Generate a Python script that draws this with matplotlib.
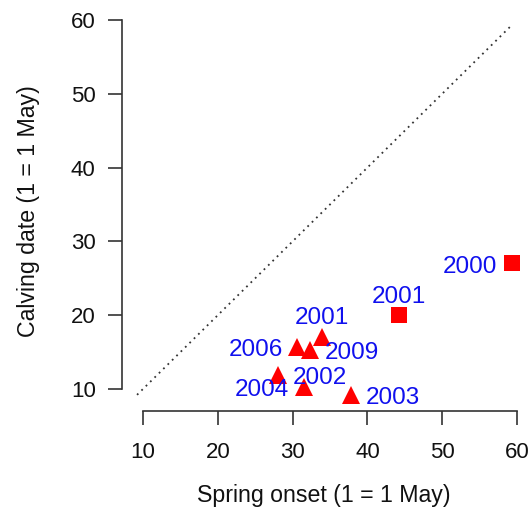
import matplotlib
matplotlib.use("Agg")
import matplotlib.pyplot as plt

# spring onset vs calving date, day of year with 1 = 1 May
squareYears = ["2000", "2001"]
squareOnset = [59.3, 44.2]
squareCalving = [27.0, 20.0]

triangleYears = ["2001", "2006", "2009", "2002", "2004", "2003"]
triangleOnset = [33.9, 30.6, 32.3, 28.1, 31.5, 37.8]
triangleCalving = [17.1, 15.7, 15.3, 11.9, 10.2, 9.15]

# 1:1 reference line extent
diagRange = [9.2, 59.3]

xTicks = [10, 20, 30, 40, 50, 60]
yTicks = [10, 20, 30, 40, 50, 60]

# where each label sits relative to its point (points, alignment)
squareLabelPos = [(-10.4, -6.5, "right"), (0, 9, "center")]
triangleLabelPos = [(0, 9, "center"), (-10.4, -6.5, "right"), (10.4, -6.5, "left"),
                    (10.4, -6.5, "left"), (-10.4, -6.5, "right"), (10.4, -6.5, "left")]

plt.rcParams['font.family'] = ['Liberation Sans', 'DejaVu Sans']
axisColor = '#333333'
textColor = '#111111'

fig = plt.figure(figsize=(5.32, 5.24), dpi=100)
ax = fig.add_axes([0.2295, 0.2155, 0.7592, 0.7633])

ax.plot(diagRange, diagRange, color='#333333', lw=1.3, linestyle=(0, (1, 2.4)))
ax.plot(squareOnset, squareCalving, 's', color='#ff0000', ms=11.2, mew=0)
ax.plot(triangleOnset, triangleCalving, '^', color='#ff0000', ms=12.5, mew=0)

for years, xs, ys, pos in [(squareYears, squareOnset, squareCalving, squareLabelPos),
                           (triangleYears, triangleOnset, triangleCalving, triangleLabelPos)]:
    for yr, x, y, (dx, dy, ha) in zip(years, xs, ys, pos):
        ax.annotate(yr, (x, y), xytext=(dx, dy), textcoords='offset points',
                    ha=ha, va='baseline', color='#1010ee', fontsize=17.5)

ax.set_xlim(7.2, 61.2)
ax.set_ylim(7.0, 61.2)
ax.set_xticks(xTicks)
ax.set_yticks(yTicks)

for side in ['top', 'right']:
    ax.spines[side].set_visible(False)
for side in ['left', 'bottom']:
    ax.spines[side].set_color(axisColor)
    ax.spines[side].set_linewidth(1.2)
ax.spines['left'].set_bounds(10, 60)
ax.spines['bottom'].set_bounds(10, 60)

ax.tick_params(axis='both', length=10, width=1.2, color=axisColor, labelsize=16, labelcolor=textColor)
ax.tick_params(axis='y', pad=9)
ax.tick_params(axis='x', pad=12)

ax.set_xlabel("Spring onset (1 = 1 May)", fontsize=16.7, color=textColor, va='center')
ax.set_ylabel("Calving date (1 = 1 May)", fontsize=16.7, color=textColor, va='center')
ax.xaxis.set_label_coords(0.5, -0.21)
ax.yaxis.set_label_coords(-0.232, 0.5)

fig.savefig("out.png", dpi=100)
